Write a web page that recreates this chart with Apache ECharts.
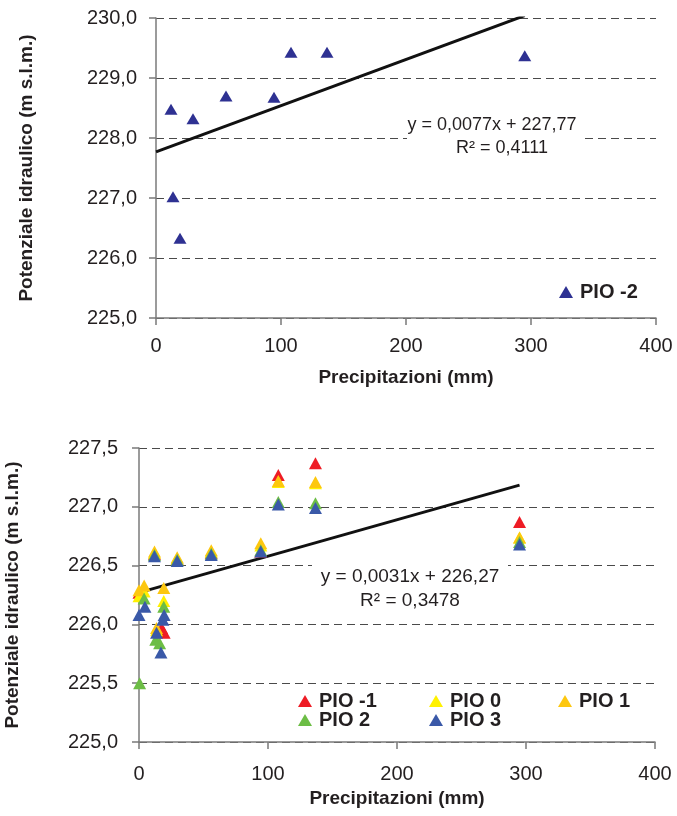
<!DOCTYPE html>
<html>
<head>
<meta charset="utf-8">
<script src="https://cdn.jsdelivr.net/npm/echarts@6/dist/echarts.min.js"></script>
<style>html,body{margin:0;padding:0;background:#fff;}#c{width:677px;height:816px;}</style>
</head>
<body>
<div id="c"></div>
<script>
// ---- Data ----
const xTicks = [0, 100, 200, 300, 400];
const topTicks = [225, 226, 227, 228, 229, 230];
const bottomTicks = [225, 225.5, 226, 226.5, 227, 227.5];

const pio_m2 = [[12,228.48],[13.6,227.02],[19.2,226.33],[29.6,228.32],[56,228.70],[94.4,228.68],[108,229.43],[136.8,229.43],[295,229.37]];
const trendTop = [[0,227.77],[295,230.04]];
const eqTop = ['y = 0,0077x + 227,77', 'R\u00B2 = 0,4111'];

const pio_m1 = [[0,226.27],[12,226.60],[17.5,225.97],[19.5,225.93],[29.6,226.56],[56,226.61],[94.4,226.62],[108,227.27],[136.8,227.37],[295,226.87]];
const pio_0 = [[0,226.24],[4,226.28],[12,226.61],[13.6,225.95],[19.2,226.20],[29.6,226.56],[56,226.62],[94.4,226.67],[108,227.21],[136.8,227.20],[295,226.74]];
const pio_1 = [[0,226.29],[4,226.33],[12,226.62],[13.6,225.97],[19.2,226.31],[29.6,226.57],[56,226.63],[94.4,226.69],[108,227.22],[136.8,227.21],[295,226.74]];
const pio_2 = [[0.5,225.50],[4,226.22],[12,226.59],[13,225.87],[16,225.84],[19.2,226.15],[29.6,226.55],[56,226.60],[94.4,226.63],[108,227.04],[136.8,227.03],[295,226.70]];
const pio_3 = [[0,226.08],[4.6,226.15],[12,226.58],[13.6,225.93],[17,225.76],[18.5,226.04],[19.5,226.08],[29.6,226.54],[56,226.59],[94.4,226.62],[108,227.02],[136.8,226.99],[295,226.68]];
const trendBottom = [[0,226.27],[295,227.1845]];
const eqBottom = ['y = 0,0031x + 226,27', 'R\u00B2 = 0,3478'];

const seriesNames = ['PIO -2','PIO -1','PIO 0','PIO 1','PIO 2','PIO 3'];
const seriesColors = ['#2E3192','#EE1C25','#FFF100','#FDC70F','#6CBD45','#3A59A8'];

// ---- Styles ----
const FONT = "'Liberation Sans', Arial, sans-serif";
const TXT = '#231F20';
const AX = '#7a7a7a';
const fmt = v => v.toFixed(1).replace('.', ',');

function xAxis(gi, labelMargin, nameGap) {
  return {
    type: 'value', gridIndex: gi, min: xTicks[0], max: xTicks[xTicks.length-1], interval: 100,
    name: 'Precipitazioni (mm)', nameLocation: 'middle', nameGap: nameGap,
    nameTextStyle: {fontFamily: FONT, fontWeight: 'bold', fontSize: 19, color: TXT},
    axisLine: {onZero: false, lineStyle: {color: AX, width: 1.5}},
    axisTick: {show: true, length: 7, lineStyle: {color: AX, width: 1.5}},
    axisLabel: {fontFamily: FONT, fontSize: 20, color: TXT, margin: labelMargin},
    splitLine: {show: false}
  };
}
function yAxis(gi, ticks, interval, nameGap, labelMargin) {
  return {
    type: 'value', gridIndex: gi, min: ticks[0], max: ticks[ticks.length-1], interval: interval,
    name: 'Potenziale idraulico (m s.l.m.)', nameLocation: 'middle', nameGap: nameGap, nameRotate: 90,
    nameTextStyle: {fontFamily: FONT, fontWeight: 'bold', fontSize: 19, color: TXT},
    axisLine: {show: true, onZero: false, lineStyle: {color: AX, width: 1.5}},
    axisTick: {show: true, length: 7, lineStyle: {color: AX, width: 1.5}},
    axisLabel: {fontFamily: FONT, fontSize: 20, color: TXT, margin: labelMargin, formatter: fmt},
    splitLine: {show: true, lineStyle: {color: '#4a4a4a', width: 1, type: [8,5]}}
  };
}
function scatter(i, data, gi, size) {
  return {
    type: 'scatter', name: seriesNames[i], data: data, xAxisIndex: gi, yAxisIndex: gi,
    symbol: 'triangle', symbolSize: size, itemStyle: {color: seriesColors[i], opacity: 1},
    z: 3 + i, emphasis: {disabled: true}
  };
}
function trend(data, gi) {
  return {type: 'line', data: data, xAxisIndex: gi, yAxisIndex: gi, symbol: 'none', clip: true,
    lineStyle: {color: '#111', width: 3}, z: 2, silent: true};
}
function legendItem(i, left, top) {
  return {data: [seriesNames[i]], left: left, top: top, padding: 0, itemGap: 0,
    itemWidth: 14, itemHeight: 12, icon: 'triangle', selectedMode: false,
    textStyle: {fontFamily: FONT, fontWeight: 'bold', fontSize: 20, color: TXT, lineHeight: 20, padding: [0,0,0,2]}};
}

const chart = echarts.init(document.getElementById('c'), null, {renderer: 'canvas'});
chart.setOption({
  backgroundColor: '#fff',
  animation: false,
  grid: [
    {left: 156, top: 18, width: 500, height: 300, outerBoundsMode: 'none', containLabel: false},
    {left: 139, top: 448, width: 516, height: 294, outerBoundsMode: 'none', containLabel: false}
  ],
  xAxis: [xAxis(0, 18, 50), xAxis(1, 22, 47)],
  yAxis: [yAxis(0, topTicks, 1, 120, 19), yAxis(1, bottomTicks, 0.5, 117, 21)],
  legend: [
    legendItem(0, 559, 282),
    legendItem(1, 298, 691),
    legendItem(2, 429, 691),
    legendItem(3, 558, 691),
    legendItem(4, 298, 710),
    legendItem(5, 429, 710)
  ],
  graphic: [
    {type: 'rect', shape: {x: 407, y: 110, width: 173, height: 50}, style: {fill: '#fff'}, z: 1},
    {type: 'rect', shape: {x: 312, y: 560, width: 196, height: 54}, style: {fill: '#fff'}, z: 1},
    {type: 'text', z: 10, style: {text: eqTop[0], x: 492, y: 125, align: 'center', verticalAlign: 'middle', fontFamily: FONT, fontSize: 18, fill: TXT}},
    {type: 'text', z: 10, style: {text: eqTop[1], x: 502, y: 148, align: 'center', verticalAlign: 'middle', fontFamily: FONT, fontSize: 18, fill: TXT}},
    {type: 'text', z: 10, style: {text: eqBottom[0], x: 410, y: 577, align: 'center', verticalAlign: 'middle', fontFamily: FONT, fontSize: 19, fill: TXT}},
    {type: 'text', z: 10, style: {text: eqBottom[1], x: 410, y: 601, align: 'center', verticalAlign: 'middle', fontFamily: FONT, fontSize: 19, fill: TXT}}
  ],
  series: [
    trend(trendTop, 0),
    scatter(0, pio_m2, 0, [13, 11]),
    trend(trendBottom, 1),
    scatter(1, pio_m1, 1, [13, 12]),
    scatter(2, pio_0, 1, [13, 12]),
    scatter(3, pio_1, 1, [13, 12]),
    scatter(4, pio_2, 1, [13, 12]),
    scatter(5, pio_3, 1, [13, 12])
  ]
});
</script>
</body>
</html>
